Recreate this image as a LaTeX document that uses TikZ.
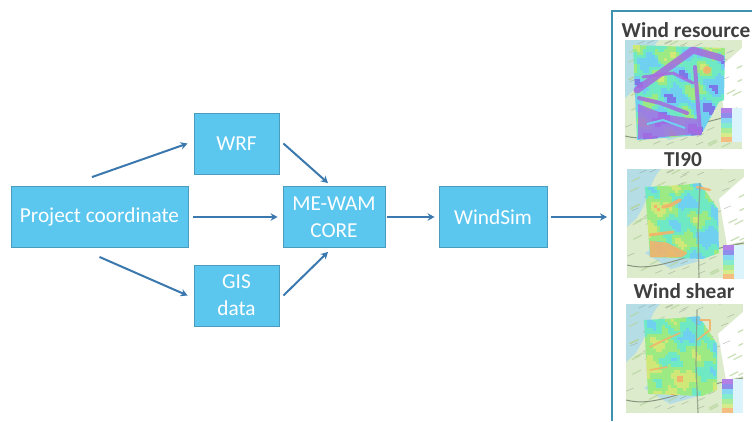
\documentclass[tikz,border=0pt]{standalone}
\usepackage{fontspec}
\usepackage{xcolor}
\setmainfont{Carlito}
\usetikzlibrary{arrows.meta, calc, positioning}

\definecolor{boxfill}{HTML}{5BC6EE}
\definecolor{boxline}{HTML}{4A9CBF}
\definecolor{flowblue}{HTML}{3A78AE}
\definecolor{panelline}{HTML}{3F93B0}
\definecolor{titlegray}{HTML}{3F3F3F}
\definecolor{landgreen}{HTML}{DCEBCB}
\definecolor{landdark}{HTML}{B4D49A}
\definecolor{landwater}{HTML}{B5DDE6}
\definecolor{landroad}{HTML}{8A9580}
% colour steps of the maps
\definecolor{step0}{HTML}{A66BE0}
\definecolor{step1}{HTML}{7B78E8}
\definecolor{step2}{HTML}{6FD0F0}
\definecolor{step3}{HTML}{6FE8C4}
\definecolor{step4}{HTML}{9BEA84}
\definecolor{step5}{HTML}{CFE878}
\definecolor{step6}{HTML}{F2B36B}

\tikzset{
    flowbox/.style={draw=boxline, fill=boxfill, line width=0.9pt, text=white, align=center,
        inner sep=0pt, font=\fontsize{21.3}{27}\selectfont},
    flowline/.style={draw=flowblue, line width=2pt, -{Stealth[length=7pt,width=7.5pt]}},
    maptitle/.style={text=titlegray, inner sep=0pt, font=\fontsize{21.3}{23}\selectfont\bfseries},
    purpleband/.style={draw=step0, line cap=round, line join=round, opacity=0.85},
    orangeband/.style={draw=step6, line cap=round, line join=round, opacity=0.9},
    maproad/.style={draw=landroad, line width=1.2pt, opacity=0.75},
}

% #1 left, #2 top, #3 value in 0..1 from \x and \y, #4 lowest step, #5 corners of the coloured part, #6 legend top
\newcommand{\drawmap}[6]{
    \begin{scope}[shift={(#1,#2)}]
        \begin{scope}
            \clip (0,0) rectangle (117,109);
            \fill[landgreen] (0,0) rectangle (117,109);
            \fill[landwater] (0,0) -- (34,0) .. controls (22,12) and (24,28) .. (9,50) -- (0,58) -- cycle;
            \fill[landwater] (18,84) .. controls (36,72) and (52,84) .. (72,92) -- (44,100) -- cycle;
            \fill[white] (92,30) -- (117,8) -- (117,72) -- (100,76) -- cycle;
            \pgfmathsetseed{41}
            \foreach \r in {1,...,40}{
                \pgfmathsetmacro{\rx}{117*rnd}
                \pgfmathsetmacro{\ry}{109*rnd}
                \draw[landdark, line width=1.3pt, opacity=0.7, line cap=round]
                    (\rx,\ry) -- ++(8,-4);
                \draw[landroad, line width=0.6pt, opacity=0.5]
                    (\ry,\rx*0.93) -- ++(7,-3);
            }
            \draw[landroad, line width=1pt] (0,96) .. controls (30,104) and (60,84) .. (117,74);
            % coloured part
            \begin{scope}
                \clip #5;
                \foreach \x in {6,9,...,99}{
                    \foreach \y in {3,6,...,99}{
                        \pgfmathtruncatemacro{\lvl}{min(6,max(0,#4+int(7*(#3))))}
                        \fill[step\lvl] (\x,\y) rectangle (\x+3.3,\y+3.3);
                    }
                }
            \end{scope}
        \end{scope}
        % legend
        \foreach \i in {0,1,...,6}{
            \fill[step\i!85] (96,#6+\i*4.9) rectangle (107,#6+\i*4.9+4.9);
            \fill[step2!25] (107,#6+\i*4.9) rectangle (117,#6+\i*4.9+4.9);
        }
    \end{scope}
}

\begin{document}
\begin{tikzpicture}[x=1pt, y=-1pt]
    \useasboundingbox (0,0) rectangle (752,421);

    \node[flowbox, minimum width=177pt, minimum height=61pt] (prj) at (99.5,217) {Project coordinate};
    \node[flowbox, minimum width=85pt, minimum height=61pt] (wrf) at (236.5,143.5) {WRF};
    \node[flowbox, minimum width=85pt, minimum height=61pt] (gis) at (236.5,295.5) {GIS\\data};
    \node[flowbox, minimum width=102pt, minimum height=61pt] (mewam) at (334,217) {ME-WAM\\CORE};
    \node[flowbox, minimum width=108pt, minimum height=61pt] (windsim) at (493,217) {WindSim};
    \coordinate (panelin) at (612,217);

    % arrows stop short of the boxes
    \draw[flowline] ([shift={(-7.5,-9)}]prj.north) -- ([xshift=-6pt]wrf.west);
    \draw[flowline] ([xshift=4pt]wrf.east) -- ([shift={(-6,-3)}]mewam.north);
    \draw[flowline] ([xshift=5pt]prj.east) -- ([xshift=-5pt]mewam.west);
    \draw[flowline] ([shift={(0,9)}]prj.south) -- ([xshift=-6pt]gis.west);
    \draw[flowline] ([xshift=4pt]gis.east) -- ([shift={(-6,4)}]mewam.south);
    \draw[flowline] ([xshift=2pt]mewam.east) -- ([xshift=-4pt]windsim.west);
    \draw[flowline] ([xshift=4pt]windsim.east) -- ([xshift=-5pt]panelin);

    % result panel
    \draw[panelline, line width=1.4pt] (752,11) -- (612,11) -- (612,421);
    \node[maptitle] (windres) at (686,30) {Wind resource};
    \node[maptitle] (tininety) at (683,159.5) {TI90};
    \node[maptitle] (windshear) at (684,291) {Wind shear};

    % wind resource map
    \drawmap{625}{40}{0.56+0.13*sin(\x*9+\y*4)+0.1*cos(\y*14-\x*5)+0.06*sin(\x*21-\y*17)-0.002*\y}{0}{(8,5) -- (100,8) -- (99,60) -- (94,62) -- (76,95) -- (12,100) -- cycle}{68}
    \begin{scope}[shift={(625,40)}]
        \draw[purpleband, line width=7pt] (12,50) -- (40,30) -- (68,10) -- (96,18);
        \draw[purpleband, line width=4pt] (70,27) -- (75,92);
        \draw[purpleband, line width=4pt] (14,58) -- (35,63) -- (62,73);
        \draw[purpleband, line width=3pt] (18,37) -- (48,33) -- (68,43);
        \fill[step0, opacity=0.8] (13,64) -- (42,75) -- (72,79) -- (73,94) -- (13,99) -- cycle;
        \draw[step2, line width=2pt] (22,84) -- (38,80) -- (60,88);
        \fill[step6, opacity=0.9] (82,30) circle (4pt);
    \end{scope}

    % TI90 map
    \drawmap{627}{169}{0.13+0.12*sin(\x*8+\y*5)+0.1*cos(\y*13-\x*4)+0.06*sin(\x*23-\y*15)+0.3*(1-\x/95)}{2}{(18,18) -- (55,16) -- (73,14) -- (91,40) -- (92,84) -- (76,90) -- (23,88) -- cycle}{76}
    \begin{scope}[shift={(627,169)}]
        \fill[orangeband, fill=step6] (23,72) -- (40,74) -- (60,84) -- (55,88) -- (23,88) -- cycle;
        \draw[orangeband, line width=3.5pt] (36,38) -- (44,36) -- (53,31);
        \draw[orangeband, line width=3pt] (23,66) -- (46,63);
        \draw[orangeband, line width=2.5pt] (70,18) -- (83,21);
        \draw[maproad] (73,14) -- (71,60) -- (72,109);
    \end{scope}

    % wind shear map
    \drawmap{626}{304}{0.09+0.1*sin(\x*8+\y*5)+0.08*cos(\y*13-\x*4)+0.05*sin(\x*23-\y*15)+0.012*(\y/4)+0.18*(1-\x/95)}{2}{(18,16) -- (55,14) -- (73,12) -- (91,40) -- (91,86) -- (76,92) -- (22,90) -- cycle}{75}
    \begin{scope}[shift={(626,304)}]
        \draw[orangeband, line width=1.6pt] (24,43) -- (38,36) -- (54,29);
        \draw[orangeband, line width=1.6pt] (24,66) -- (41,63);
        \draw[orangeband, line width=1.6pt] (74,16) -- (84,16) -- (84,26) -- (71,36);
        \draw[maproad] (71,6) -- (70,60) -- (72,109);
    \end{scope}
\end{tikzpicture}
\end{document}
